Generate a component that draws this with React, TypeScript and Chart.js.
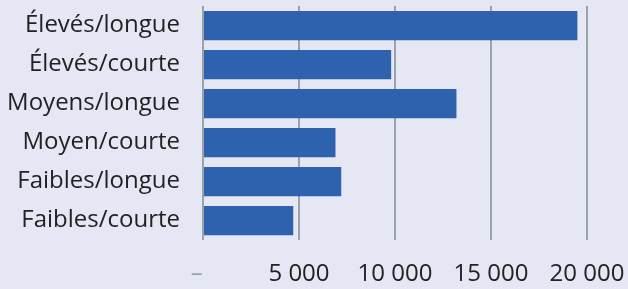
import React, { useEffect, useRef } from "react";
import { Chart, registerables } from "chart.js";

Chart.register(...registerables);

const categories = [
  "Élevés/longue",
  "Élevés/courte",
  "Moyens/longue",
  "Moyen/courte",
  "Faibles/longue",
  "Faibles/courte",
];
const values = [19500, 9800, 13200, 6900, 7200, 4700];
const xMin = 0;
const xMax = 20000;
const xStep = 5000;

const BG = "#e5e7f4";
const BAR = "#2e62ae";
const GRID = "#9ba2a8";
const TEXT = "#222222";
const FONT = "'Open Sans'";

function fmt(v: number): string {
  if (v === 0) return "–\u00a0\u00a0";
  return String(Math.round(v)).replace(/\B(?=(\d{3})+(?!\d))/g, " ");
}

export default function App() {
  const ref = useRef<HTMLCanvasElement | null>(null);
  useEffect(() => {
    document.body.style.margin = "0";
    const ctx = ref.current!;
    const chart = new Chart(ctx, {
      type: "bar",
      data: {
        labels: categories,
        datasets: [
          {
            data: values,
            backgroundColor: BAR,
            borderWidth: 0,
            barPercentage: 0.75,
            categoryPercentage: 1,
          },
        ],
      },
      options: {
        indexAxis: "y",
        animation: false,
        responsive: false,
        maintainAspectRatio: false,
        layout: { autoPadding: false, padding: { top: 6, bottom: 0, left: 0, right: 41 } },
        plugins: { legend: { display: false }, tooltip: { enabled: false } },
        scales: {
          x: {
            min: xMin,
            max: xMax,
            ticks: {
              stepSize: xStep,
              padding: 20,
              font: { family: FONT, size: 24, lineHeight: 1.2 },
              color: (c: any) => (c.tick && c.tick.value === 0 ? GRID : TEXT),
              callback: (v: any) => fmt(Number(v)),
              maxRotation: 0,
              autoSkip: false,
            },
            grid: { color: GRID, lineWidth: 2, drawTicks: false },
            border: { display: false },
            afterFit: (s: any) => {
              s.height = 49;
              s.paddingLeft = 0;
              s.paddingRight = 0;
              s.paddingTop = 0;
              s.paddingBottom = 0;
            },
          },
          y: {
            ticks: {
              padding: 23,
              font: { family: FONT, size: 24, lineHeight: 1.2 },
              color: TEXT,
            },
            grid: { display: false, drawTicks: false },
            border: { display: false },
            afterFit: (s: any) => {
              s.width = 203;
              s.paddingLeft = 0;
              s.paddingRight = 0;
              s.paddingTop = 0;
              s.paddingBottom = 0;
            },
          },
        },
      },
    });
    return () => chart.destroy();
  }, []);
  return (
    <div style={{ width: 628, height: 289, background: BG }}>
      <canvas ref={ref} width={628} height={289} style={{ display: "block" }} />
    </div>
  );
}
